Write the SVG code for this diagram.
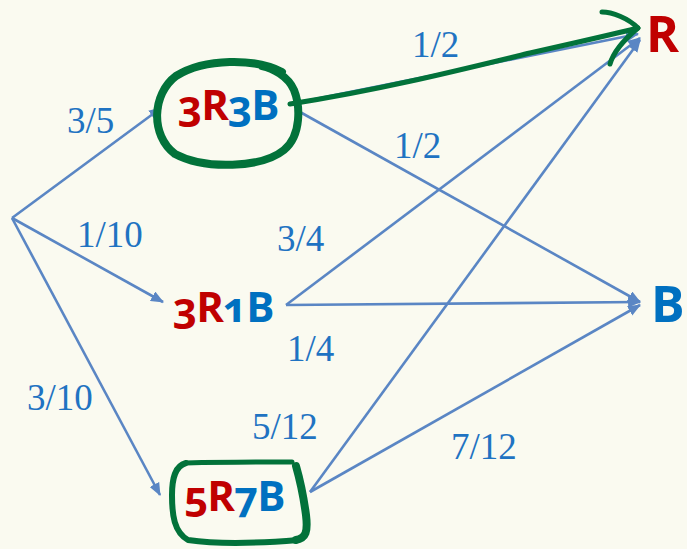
<svg xmlns="http://www.w3.org/2000/svg" width="687" height="549" viewBox="0 0 687 549">
  <defs>
    <marker id="ah" viewBox="0 0 12 10" refX="11" refY="5" markerWidth="13" markerHeight="11" orient="auto" markerUnits="userSpaceOnUse">
      <path d="M0,0 L12,5 L0,10 Z" fill="#5A86C4"/>
    </marker>
    <style>
      .edge { stroke: #5A86C4; stroke-width: 2.6; fill: none; marker-end: url(#ah); }
      .prob { font-family: "Liberation Serif", "DejaVu Serif", serif; font-size: 37px; fill: #1F73C2; }
      .node { font-family: "Open Sans", "Noto Sans", sans-serif; font-weight: 700; font-size: 42px; letter-spacing: -1px; font-variant-numeric: oldstyle-nums; font-feature-settings: "onum"; }
      .big { font-size: 50px; letter-spacing: 0; }
      .r { fill: #C00000; }
      .b { fill: #0070C0; }
      .hl { stroke: #02723A; fill: none; stroke-linecap: round; stroke-linejoin: round; }
    </style>
  </defs>
  <rect width="687" height="549" fill="#FAFAF0"/>

  <g id="connectors">
    <line class="edge" x1="12" y1="218" x2="161" y2="108"/>
    <line class="edge" x1="12" y1="218" x2="163" y2="302"/>
    <line class="edge" x1="12" y1="218" x2="160" y2="495"/>
    <line class="edge" x1="300" y1="102" x2="638" y2="34"/>
    <line class="edge" x1="300" y1="112" x2="640" y2="302"/>
    <line class="edge" x1="286" y1="305" x2="640" y2="38"/>
    <line class="edge" x1="286" y1="305" x2="640" y2="302"/>
    <line class="edge" x1="310" y1="492" x2="640" y2="40"/>
    <line class="edge" x1="310" y1="492" x2="640" y2="305"/>
  </g>

  <g id="labels">
    <text class="prob" x="67" y="133">3/5</text>
    <text class="prob" x="77" y="247">1/10</text>
    <text class="prob" x="27" y="410">3/10</text>
    <text class="prob" x="412" y="57">1/2</text>
    <text class="prob" x="394" y="158">1/2</text>
    <text class="prob" x="277" y="251">3/4</text>
    <text class="prob" x="287" y="361">1/4</text>
    <text class="prob" x="252" y="439">5/12</text>
    <text class="prob" x="451" y="459">7/12</text>
  </g>

  <g id="node-3R3B">
    <text class="node" x="178" y="120"><tspan class="r">3R</tspan><tspan class="b">3B</tspan></text>
  </g>
  <g id="node-3R1B">
    <text class="node" x="173" y="322"><tspan class="r">3R</tspan><tspan class="b">1B</tspan></text>
  </g>
  <g id="node-5R7B">
    <text class="node" x="184" y="511"><tspan class="r">5R</tspan><tspan class="b">7B</tspan></text>
  </g>
  <g id="node-R">
    <text class="node big r" x="646" y="52">R</text>
  </g>
  <g id="node-B">
    <text class="node big b" x="651" y="322">B</text>
  </g>

  <g id="highlights">
    <path class="hl" stroke-width="8" d="M282,72 C255,58 205,58 176,76 C152,94 150,135 175,154 C205,170 262,168 284,150 C302,135 300,105 294,90 C288,76 272,68 262,66"/>
    <path class="hl" stroke-width="5" d="M290,104 C380,90 460,70 530,53 C570,44 610,35 638,28"/>
    <path class="hl" stroke-width="5" d="M602,12 C612,12 628,18 638,28 C626,38 614,50 610,64"/>
    <path class="hl" stroke-width="5" d="M186,463 C230,462 270,462 292,462"/>
    <path class="hl" stroke-width="6" d="M186,463 C175,466 172,478 172,495 C172,515 174,532 188,540 C222,545 262,543 298,540"/>
    <path class="hl" stroke-width="8" d="M296,466 C300,480 304,500 306,515 C308,532 306,538 296,540"/>
  </g>
</svg>
